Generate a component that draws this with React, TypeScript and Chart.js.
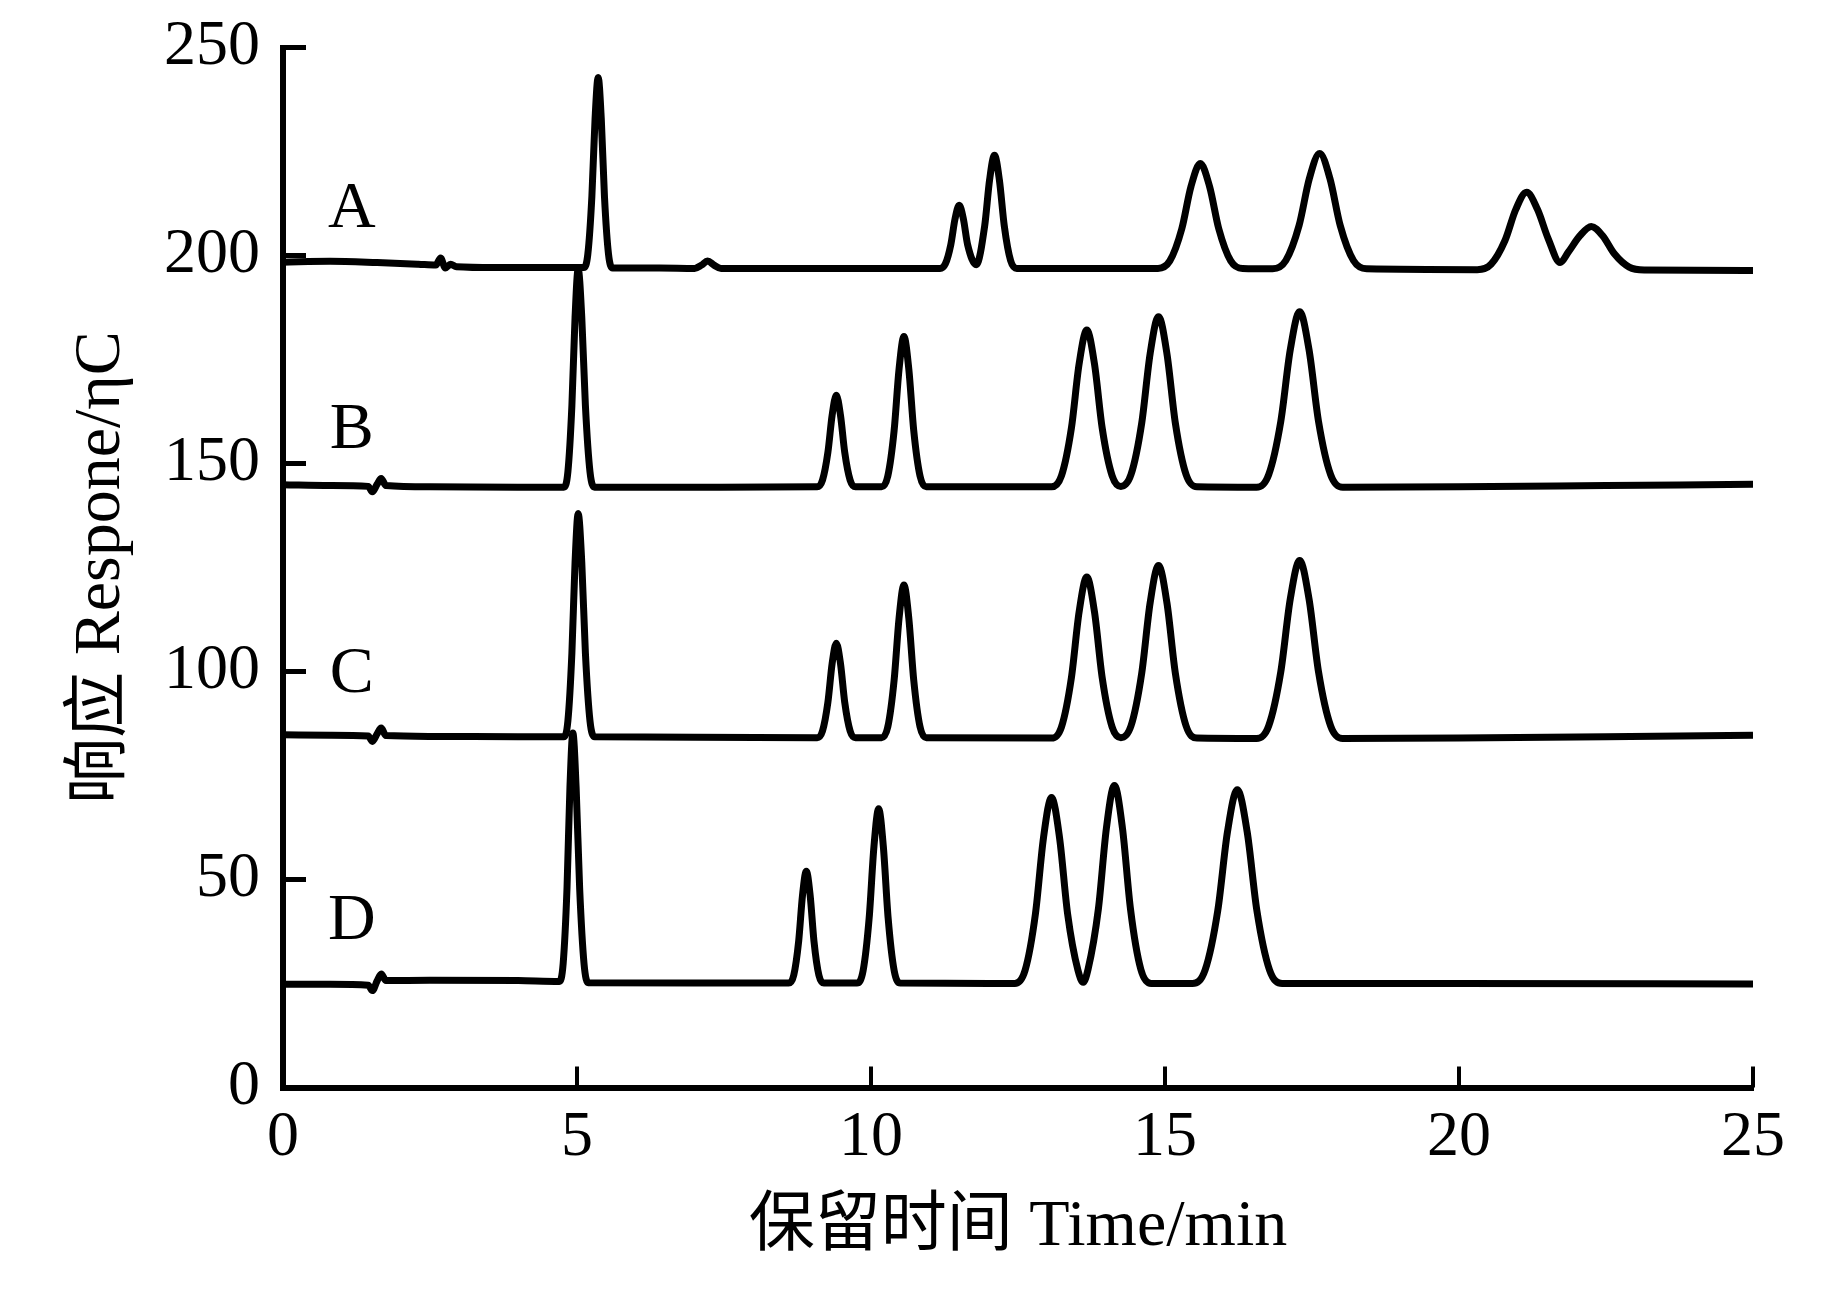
import React, { useEffect, useRef } from "react";
import { Chart, registerables } from "chart.js";

Chart.register(...registerables);

const FONT = '"Liberation Serif", "Times New Roman", "Noto Sans CJK SC", serif';

const xTicks = [0, 5, 10, 15, 20, 25];
const yTicks = [0, 50, 100, 150, 200, 250];
const xTitle = "保留时间 Time/min";
const yTitle = "响应 Respone/ηC";

const seriesNames = ["A", "B", "C", "D"];
const labelTime = [1.17, 1.17, 1.17, 1.17];
const labelResponse = [206.8, 153.8, 95.1, 35.7];

const traceA: [number, number][] = [
  [0, 198.4], [0.8, 198.6], [1.6, 198.3], [2.3, 197.9], [2.6, 197.7], [2.68, 199.4], [2.76, 197.0],
  [2.85, 197.9], [2.95, 197.3], [3.6, 197.1], [4.6, 197.1], [5.115, 197.1], [5.184, 200.3],
  [5.253, 214.2], [5.307, 232.8], [5.36, 242.8], [5.413, 232.8], [5.467, 214.2], [5.536, 200.3],
  [5.605, 197.0], [6.4, 197.0], [7.0, 196.9], [7.12, 197.7], [7.22, 198.7], [7.33, 197.7],
  [7.45, 196.9], [9.0, 196.9], [11.174, 196.9], [11.265, 198.0], [11.357, 202.6], [11.429, 208.8],
  [11.5, 212.1], [11.571, 208.8], [11.643, 202.6], [11.79, 197.8], [11.933, 207.1], [12.017, 218.2],
  [12.1, 224.1], [12.183, 218.2], [12.267, 207.1], [12.374, 198.8], [12.48, 196.9], [14.88, 196.9],
  [15.082, 198.7], [15.285, 206.4], [15.442, 216.6], [15.6, 222.1], [15.758, 216.6], [15.915, 206.4],
  [16.118, 198.7], [16.32, 196.9], [16.83, 196.8], [17.055, 198.8], [17.28, 207.2], [17.455, 218.5],
  [17.63, 224.5], [17.805, 218.5], [17.98, 207.2], [18.205, 198.8], [18.43, 196.8], [20.31, 196.6],
  [20.545, 197.9], [20.782, 203.6], [20.966, 211.1], [21.15, 215.2], [21.334, 211.1], [21.518, 204.0],
  [21.72, 198.3], [21.858, 200.8], [22.054, 204.7], [22.25, 207.0], [22.446, 204.7], [22.642, 200.4],
  [22.894, 197.2], [23.15, 196.5], [25, 196.4],
];

const traceB: [number, number][] = [
  [0, 144.9], [0.8, 144.7], [1.45, 144.5], [1.52, 143.2], [1.6, 145.0], [1.67, 146.4], [1.75, 144.7],
  [2.5, 144.4], [4.0, 144.3], [4.775, 144.3], [4.845, 148.0], [4.913, 163.9], [4.967, 185.2],
  [5.02, 196.8], [5.081, 185.2], [5.143, 163.9], [5.221, 148.0], [5.3, 144.3], [7.0, 144.3],
  [9.084, 144.4], [9.175, 146.0], [9.267, 152.7], [9.339, 161.6], [9.41, 166.4], [9.481, 161.6],
  [9.553, 152.7], [9.645, 146.0], [9.736, 144.4], [10.18, 144.4], [10.286, 147.0], [10.393, 157.9],
  [10.477, 172.7], [10.56, 180.5], [10.643, 172.7], [10.727, 157.9], [10.834, 147.0], [10.94, 144.4],
  [13.072, 144.4], [13.24, 147.1], [13.408, 158.5], [13.539, 173.9], [13.67, 182.1], [13.801, 173.9],
  [13.932, 158.5], [14.1, 147.1], [14.25, 144.5], [14.421, 147.3], [14.604, 159.7], [14.747, 176.4],
  [14.89, 185.3], [15.033, 176.4], [15.176, 159.7], [15.359, 147.3], [15.543, 144.4], [16.557, 144.3],
  [16.763, 147.3], [16.969, 160.1], [17.13, 177.3], [17.29, 186.5], [17.45, 177.3], [17.611, 160.1],
  [17.817, 147.3], [18.023, 144.3], [20.0, 144.4], [22.5, 144.7], [25, 145.0],
];

const traceC: [number, number][] = [
  [0, 84.8], [0.8, 84.7], [1.45, 84.5], [1.52, 83.2], [1.6, 85.0], [1.67, 86.4], [1.75, 84.6],
  [2.5, 84.4], [4.0, 84.3], [4.775, 84.3], [4.845, 88.1], [4.913, 104.4], [4.967, 126.3],
  [5.02, 138.0], [5.081, 126.3], [5.143, 104.4], [5.221, 88.1], [5.3, 84.3], [7.0, 84.2],
  [9.084, 84.1], [9.175, 85.7], [9.267, 92.6], [9.339, 101.9], [9.41, 106.8], [9.481, 101.9],
  [9.553, 92.6], [9.645, 85.7], [9.736, 84.1], [10.18, 84.1], [10.286, 86.7], [10.393, 97.9],
  [10.477, 112.8], [10.56, 120.8], [10.643, 112.8], [10.727, 97.9], [10.834, 86.7], [10.94, 84.1],
  [13.072, 84.0], [13.24, 86.7], [13.408, 98.5], [13.539, 114.3], [13.67, 122.7], [13.801, 114.3],
  [13.932, 98.5], [14.1, 86.7], [14.25, 84.1], [14.421, 86.9], [14.604, 99.6], [14.747, 116.5],
  [14.89, 125.5], [15.033, 116.5], [15.176, 99.6], [15.359, 86.9], [15.543, 84.0], [16.557, 83.9],
  [16.763, 86.9], [16.969, 99.9], [17.13, 117.4], [17.29, 126.7], [17.45, 117.4], [17.611, 99.9],
  [17.817, 86.9], [18.023, 83.9], [20.0, 84.0], [22.5, 84.3], [25, 84.7],
];

const traceD: [number, number][] = [
  [0, 24.8], [0.8, 24.8], [1.45, 24.6], [1.52, 23.3], [1.6, 25.6], [1.67, 27.3], [1.75, 25.7],
  [2.5, 25.8], [4.0, 25.7], [4.7, 25.5], [4.764, 29.7], [4.83, 47.9], [4.88, 72.2], [4.93, 85.2],
  [4.985, 72.2], [5.045, 47.9], [5.12, 29.7], [5.19, 25.2], [7.0, 25.1], [8.6, 25.1], [8.686, 27.0],
  [8.77, 35.2], [8.835, 46.2], [8.9, 52.0], [8.965, 46.2], [9.03, 35.2], [9.114, 27.0], [9.2, 25.1],
  [9.762, 25.1], [9.866, 28.1], [9.969, 40.8], [10.05, 57.9], [10.13, 67.0], [10.21, 57.9],
  [10.291, 40.8], [10.394, 28.1], [10.498, 25.1], [12.446, 25.0], [12.621, 28.2], [12.797, 41.8],
  [12.933, 60.0], [13.07, 69.7], [13.207, 60.0], [13.343, 41.8], [13.519, 28.2], [13.61, 25.3],
  [13.691, 28.4], [13.867, 42.9], [14.003, 62.3], [14.14, 72.6], [14.277, 62.3], [14.413, 42.9],
  [14.589, 28.4], [14.764, 25.0], [15.468, 25.0], [15.683, 28.3], [15.897, 42.5], [16.063, 61.5],
  [16.23, 71.6], [16.397, 61.5], [16.563, 42.5], [16.777, 28.3], [16.992, 25.0], [20.0, 25.0],
  [25, 24.9],
];

const traces = [traceA, traceB, traceC, traceD];

export default function App() {
  const ref = useRef<HTMLCanvasElement>(null);

  useEffect(() => {
    const canvas = ref.current;
    if (!canvas) return;

    const inwardTicks = {
      id: "inwardTicks",
      afterDraw(chart: any) {
        const { ctx, chartArea, scales } = chart;
        const xs = scales.x;
        const ys = scales.y;
        ctx.save();
        ctx.strokeStyle = "#000";
        ctx.lineCap = "butt";
        ctx.lineWidth = 5;
        yTicks.forEach((v) => {
          if (v === 0) return;
          const py = ys.getPixelForValue(v);
          ctx.beginPath();
          ctx.moveTo(chartArea.left, py);
          ctx.lineTo(chartArea.left + 23, py);
          ctx.stroke();
        });
        ctx.lineWidth = 4;
        xTicks.forEach((v) => {
          if (v === 0) return;
          const px = xs.getPixelForValue(v);
          ctx.beginPath();
          ctx.moveTo(px, chartArea.bottom);
          ctx.lineTo(px, chartArea.bottom - 21);
          ctx.stroke();
        });
        ctx.fillStyle = "#000";
        ctx.font = `66px ${FONT}`;
        ctx.textAlign = "center";
        ctx.textBaseline = "alphabetic";
        seriesNames.forEach((n, i) => {
          ctx.fillText(n, xs.getPixelForValue(labelTime[i]), ys.getPixelForValue(labelResponse[i]));
        });
        ctx.restore();
      },
    };

    const chart = new Chart(canvas, {
      type: "line",
      data: {
        datasets: traces
          .map((t, i) => ({
            label: seriesNames[i],
            data: t.map((p) => ({ x: p[0], y: p[1] })),
            borderColor: "#000",
            backgroundColor: "#000",
            borderWidth: 7,
            pointRadius: 0,
            fill: false,
            cubicInterpolationMode: "monotone" as const,
          }))
          .reverse(),
      },
      options: {
        animation: false,
        responsive: false,
        events: [],
        layout: { padding: { left: 0, top: 47.5, right: 90, bottom: 0 } },
        plugins: { legend: { display: false }, tooltip: { enabled: false } },
        scales: {
          x: {
            type: "linear",
            min: 0,
            max: 25,
            grid: { display: false, drawTicks: false },
            border: { display: true, width: 6, color: "#000" },
            afterBuildTicks: (s: any) => {
              s.ticks = xTicks.map((v) => ({ value: v }));
            },
            ticks: {
              color: "#000",
              font: { family: FONT, size: 64 },
              padding: 12,
              autoSkip: false,
              maxRotation: 0,
              callback: (v: any) => String(v),
            },
            title: {
              display: true,
              text: xTitle,
              color: "#000",
              font: { family: FONT, size: 66 },
              padding: { top: 0, bottom: 32 },
            },
            afterFit: (s: any) => {
              s.height = 211.5;
              s.paddingLeft = 0;
              s.paddingRight = 0;
            },
          },
          y: {
            type: "linear",
            min: 0,
            max: 250,
            grid: { display: false, drawTicks: false },
            border: { display: true, width: 6, color: "#000" },
            afterBuildTicks: (s: any) => {
              s.ticks = yTicks.map((v) => ({ value: v }));
            },
            ticks: {
              color: "#000",
              font: { family: FONT, size: 64 },
              padding: 23,
              autoSkip: false,
              callback: (v: any) => String(v),
            },
            title: {
              display: true,
              text: yTitle,
              color: "#000",
              font: { family: FONT, size: 66 },
              padding: { top: 62, bottom: 0 },
            },
            afterFit: (s: any) => {
              s.width = 283;
              s.paddingTop = 0;
              s.paddingBottom = 0;
            },
          },
        },
      },
      plugins: [inwardTicks],
    });

    return () => chart.destroy();
  }, []);

  return (
    <div style={{ position: "absolute", left: 0, top: 0, width: 1843, height: 1299, background: "#fff" }}>
      <canvas ref={ref} width={1843} height={1299} style={{ display: "block" }} />
    </div>
  );
}
